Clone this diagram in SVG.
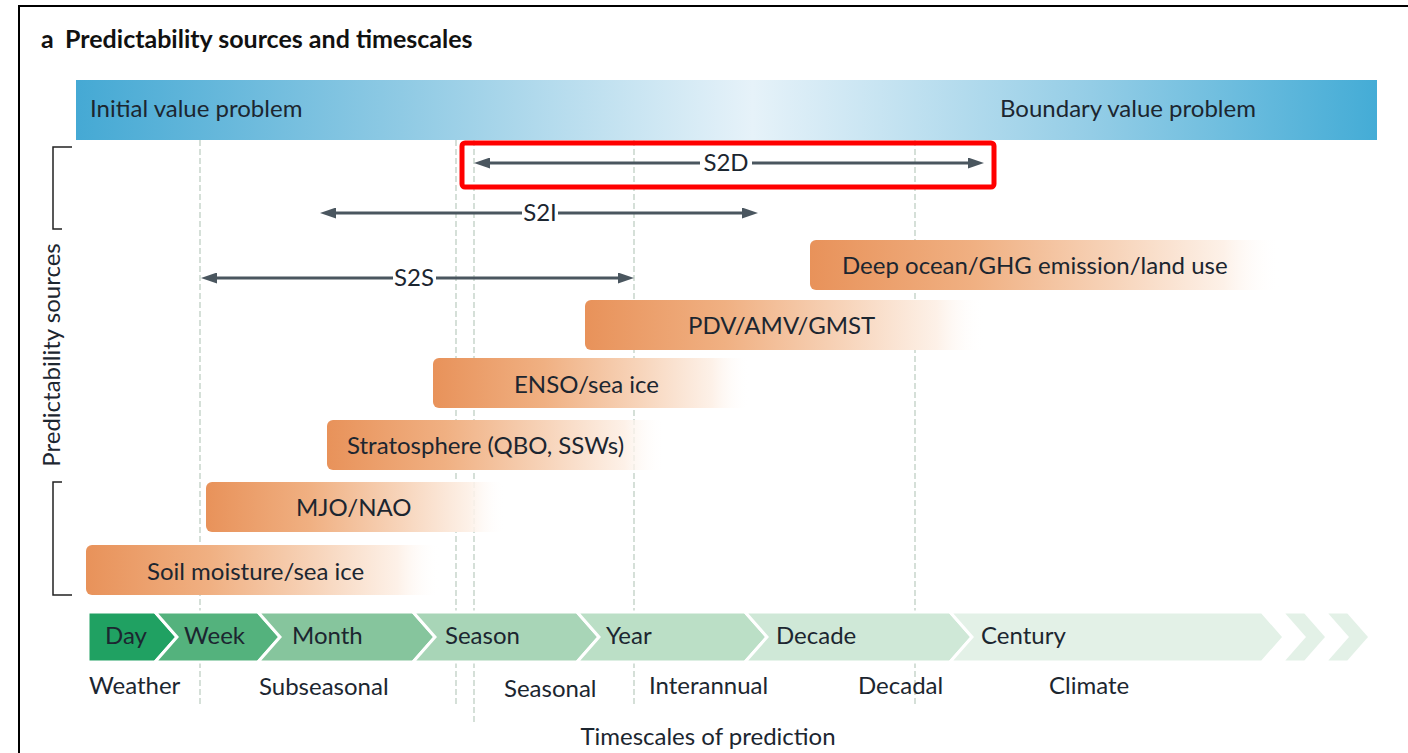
<svg xmlns="http://www.w3.org/2000/svg" width="1408" height="753" viewBox="0 0 1408 753">
<defs>
<style>
.t{font-family:Lato,"Open Sans","Liberation Sans",sans-serif;font-size:24px;fill:#1c2630}
.title{font-family:Lato,"Liberation Sans",sans-serif;font-size:25px;font-weight:bold;fill:#111}
.dash{stroke:#b9cbbf;stroke-width:1.2;stroke-dasharray:6 3;fill:none}
.arr{stroke:#4a565f;stroke-width:3;fill:none}
.bar{fill:url(#og)}
.chev{stroke:#fff;stroke-width:3;stroke-linejoin:miter}
</style>
<linearGradient id="blue" x1="0" y1="0" x2="1" y2="0">
<stop offset="0" stop-color="#45a9d4"/>
<stop offset="0.25" stop-color="#8fcae4"/>
<stop offset="0.52" stop-color="#e6f2f9"/>
<stop offset="0.78" stop-color="#94cde6"/>
<stop offset="1" stop-color="#44acd6"/>
</linearGradient>
<linearGradient id="og" x1="0" y1="0" x2="1" y2="0">
<stop offset="0" stop-color="#e8925a"/>
<stop offset="0.35" stop-color="#f0b082"/>
<stop offset="0.65" stop-color="#f7d4ba"/>
<stop offset="0.88" stop-color="#fdf1e8"/>
<stop offset="1" stop-color="#ffffff" stop-opacity="0"/>
</linearGradient>
<marker id="ah" viewBox="0 0 16 11" refX="5" refY="5.5" markerWidth="16" markerHeight="11" markerUnits="userSpaceOnUse" orient="auto-start-reverse">
<path d="M0,0 L16,5.5 L0,11 z" fill="#4a565f"/>
</marker>
</defs>
<rect x="0" y="0" width="1408" height="753" fill="#fff"/>
<rect x="19" y="6" width="1400" height="760" fill="none" stroke="#000" stroke-width="2"/>
<text class="title" x="41" y="48">a</text>
<text class="title" x="65" y="48">Predictability sources and timescales</text>

<g id="top-bar">
<rect x="76" y="80" width="1301" height="60" fill="url(#blue)"/>
<text class="t" x="90" y="117" font-size="25">Initial value problem</text>
<text class="t" x="1000" y="117" font-size="25">Boundary value problem</text>
</g>

<g id="gridlines">
<line class="dash" x1="200" y1="140" x2="200" y2="705"/>
<line class="dash" x1="456" y1="140" x2="456" y2="705"/>
<line class="dash" x1="474" y1="140" x2="474" y2="723"/>
<line class="dash" x1="634" y1="140" x2="634" y2="705"/>
<line class="dash" x1="915" y1="140" x2="915" y2="705"/>
</g>

<g id="bracket" fill="none" stroke="#222" stroke-width="1.5">
<path d="M72,147 H53 V229 H62"/>
<path d="M62,482 H53 V595 H72"/>
</g>
<text class="t" transform="translate(60,355) rotate(-90)" text-anchor="middle">Predictability sources</text>

<g id="connectors">
<path class="arr" d="M485,163 H700" marker-start="url(#ah)"/>
<path class="arr" d="M752,163 H973" marker-end="url(#ah)"/>
<path class="arr" d="M331,213 H522" marker-start="url(#ah)"/>
<path class="arr" d="M558,213 H747" marker-end="url(#ah)"/>
<path class="arr" d="M212,278 H393" marker-start="url(#ah)"/>
<path class="arr" d="M436,278 H623" marker-end="url(#ah)"/>
</g>
<g id="arrow-labels">
<text class="t" x="726" y="171" text-anchor="middle">S2D</text>
<text class="t" x="540" y="221" text-anchor="middle">S2I</text>
<text class="t" x="414" y="286" text-anchor="middle">S2S</text>
</g>

<g id="highlight">
<rect x="462" y="143" width="532" height="44" rx="3" fill="none" stroke="#ff0000" stroke-width="5"/>
</g>

<g id="src-deep-ocean">
<rect class="bar" x="810" y="240" width="470" height="50" rx="6"/>
<text class="t" x="842" y="274">Deep ocean/GHG emission/land use</text>
</g>
<g id="src-pdv">
<rect class="bar" x="585" y="300" width="400" height="50" rx="6"/>
<text class="t" x="688" y="334">PDV/AMV/GMST</text>
</g>
<g id="src-enso">
<rect class="bar" x="433" y="358" width="317" height="50" rx="6"/>
<text class="t" x="514" y="393">ENSO/sea ice</text>
</g>
<g id="src-strat">
<rect class="bar" x="327" y="420" width="338" height="50" rx="6"/>
<text class="t" x="347" y="454">Stratosphere (QBO, SSWs)</text>
</g>
<g id="src-mjo">
<rect class="bar" x="206" y="482" width="299" height="50" rx="6"/>
<text class="t" x="296" y="516">MJO/NAO</text>
</g>
<g id="src-soil">
<rect class="bar" x="86" y="545" width="354" height="50" rx="6"/>
<text class="t" x="147" y="580">Soil moisture/sea ice</text>
</g>

<g id="timescales">
<polygon class="chev" fill="#20a162" points="88,612 155,612 177,637 155,662 88,662"/>
<polygon class="chev" fill="#54b27d" points="155,612 258,612 280,637 258,662 155,662 177,637"/>
<polygon class="chev" fill="#86c59d" points="258,612 413,612 435,637 413,662 258,662 280,637"/>
<polygon class="chev" fill="#a8d5b7" points="413,612 577,612 599,637 577,662 413,662 435,637"/>
<polygon class="chev" fill="#bbdfc6" points="577,612 745,612 767,637 745,662 577,662 599,637"/>
<polygon class="chev" fill="#cfe8d7" points="745,612 950,612 972,637 950,662 745,662 767,637"/>
<polygon class="chev" fill="#e3f1e7" points="950,612 1262,612 1284,637 1262,662 950,662 972,637"/>
<polygon class="chev" fill="#e3f1e7" points="1282,612 1305,612 1327,637 1305,662 1282,662 1304,637"/>
<polygon class="chev" fill="#e3f1e7" points="1325,612 1348,612 1370,637 1348,662 1325,662 1347,637"/>
<text class="t" x="105" y="644">Day</text>
<text class="t" x="184" y="644">Week</text>
<text class="t" x="292" y="644">Month</text>
<text class="t" x="445" y="644">Season</text>
<text class="t" x="606" y="644">Year</text>
<text class="t" x="776" y="644">Decade</text>
<text class="t" x="981" y="644">Century</text>
</g>

<g id="ranges">
<text class="t" x="89" y="694">Weather</text>
<text class="t" x="259" y="695">Subseasonal</text>
<text class="t" x="504" y="697">Seasonal</text>
<text class="t" x="649" y="694">Interannual</text>
<text class="t" x="858" y="694">Decadal</text>
<text class="t" x="1049" y="694">Climate</text>
<text class="t" x="708" y="745" text-anchor="middle">Timescales of prediction</text>
</g>
</svg>
